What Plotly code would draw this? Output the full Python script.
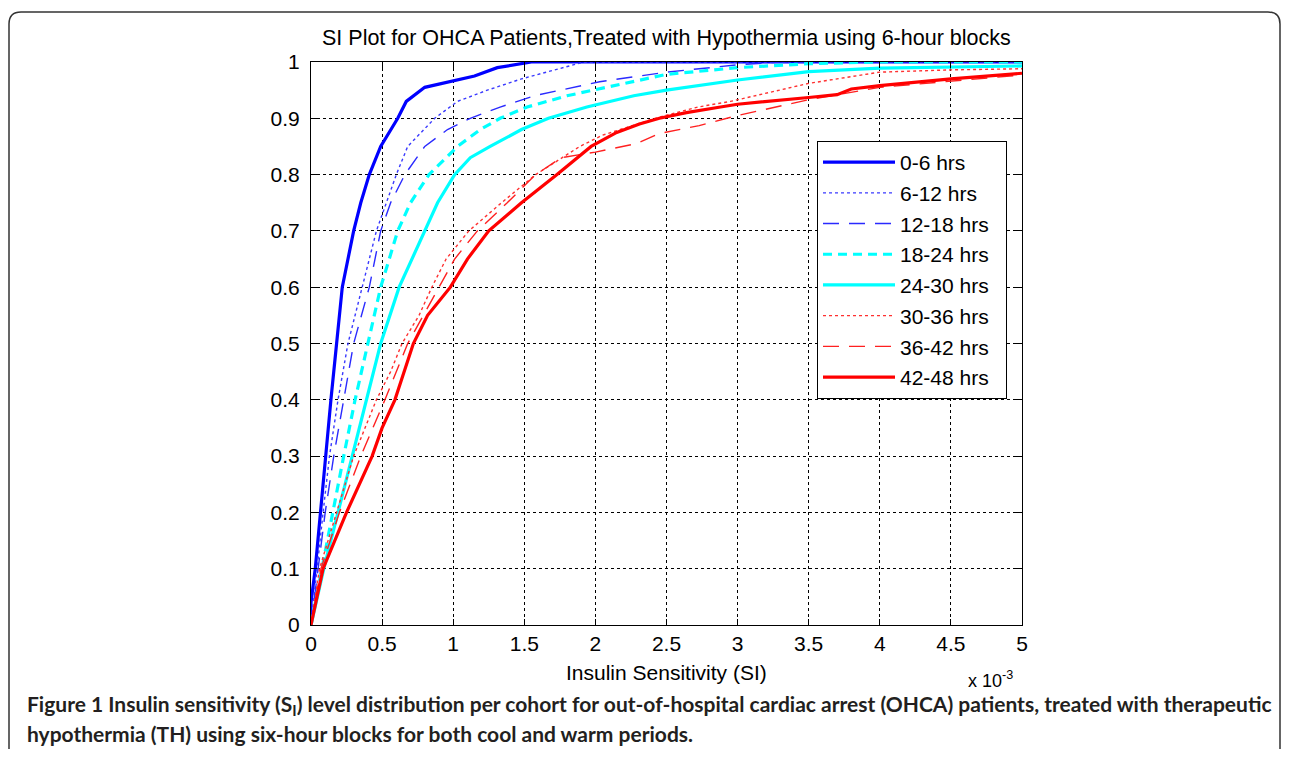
import plotly.graph_objects as go

# Insulin sensitivity values are in units of 1e-3 (axis shows "x 10^-3")
labels = ["0-6 hrs", "6-12 hrs", "12-18 hrs", "18-24 hrs",
          "24-30 hrs", "30-36 hrs", "36-42 hrs", "42-48 hrs"]

x_0_6 = [0, 0, 0.03, 0.065, 0.10, 0.14, 0.18, 0.22, 0.30, 0.35, 0.41, 0.49, 0.61, 0.67, 0.80, 0.98, 1.15, 1.31, 1.55, 5.0]
y_0_6 = [0, 0.04, 0.1, 0.2, 0.3, 0.4, 0.5, 0.6, 0.7, 0.75, 0.8, 0.85, 0.9, 0.93, 0.955, 0.965, 0.975, 0.99, 1.0, 1.0]

x_6_12 = [0, 0.04, 0.085, 0.13, 0.19, 0.26, 0.36, 0.46, 0.53, 0.60, 0.68, 0.87, 1.03, 1.24, 1.48, 1.71, 1.92, 5.0]
y_6_12 = [0, 0.1, 0.2, 0.3, 0.4, 0.5, 0.6, 0.7, 0.75, 0.8, 0.85, 0.9, 0.93, 0.95, 0.97, 0.985, 1.0, 1.0]

x_12_18 = [0, 0.05, 0.10, 0.16, 0.23, 0.30, 0.41, 0.49, 0.56, 0.66, 0.80, 0.96, 1.12, 1.33, 1.57, 1.76, 2.03, 2.5, 3.0, 3.3, 5.0]
y_12_18 = [0, 0.1, 0.2, 0.3, 0.4, 0.5, 0.6, 0.7, 0.75, 0.8, 0.85, 0.88, 0.9, 0.92, 0.94, 0.95, 0.965, 0.982, 0.995, 1.0, 1.0]

x_18_24 = [0, 0.075, 0.15, 0.23, 0.31, 0.40, 0.49, 0.55, 0.61, 0.70, 0.83, 1.03, 1.19, 1.33, 1.52, 1.80, 2.18, 2.5, 3.0, 3.5, 4.0, 5.0]
y_18_24 = [0, 0.1, 0.2, 0.3, 0.4, 0.5, 0.6, 0.65, 0.7, 0.75, 0.8, 0.85, 0.88, 0.9, 0.92, 0.94, 0.96, 0.978, 0.99, 0.997, 1.0, 1.0]

x_24_30 = [0, 0.09, 0.19, 0.29, 0.39, 0.49, 0.62, 0.80, 0.89, 1.01, 1.12, 1.26, 1.48, 1.67, 1.94, 2.27, 2.5, 3.0, 3.5, 4.0, 5.0]
y_24_30 = [0, 0.1, 0.2, 0.3, 0.4, 0.5, 0.6, 0.7, 0.75, 0.8, 0.83, 0.85, 0.88, 0.9, 0.92, 0.94, 0.95, 0.968, 0.983, 0.989, 0.993]

x_30_36 = [0, 0.06, 0.18, 0.30, 0.46, 0.56, 0.64, 0.76, 0.85, 0.95, 1.11, 1.34, 1.58, 1.89, 2.05, 2.42, 2.72, 2.95, 3.5, 4.0, 4.5, 5.0]
y_30_36 = [0, 0.1, 0.2, 0.3, 0.4, 0.45, 0.5, 0.55, 0.6, 0.65, 0.7, 0.75, 0.8, 0.85, 0.87, 0.9, 0.92, 0.93, 0.962, 0.982, 0.986, 0.988]

x_36_42 = [0, 0.07, 0.20, 0.35, 0.52, 0.68, 0.90, 1.01, 1.17, 1.38, 1.58, 1.76, 2.0, 2.29, 2.45, 2.73, 3.0, 3.5, 4.0, 4.5, 5.0]
y_36_42 = [0, 0.1, 0.2, 0.3, 0.4, 0.5, 0.6, 0.65, 0.7, 0.75, 0.8, 0.83, 0.84, 0.855, 0.873, 0.887, 0.905, 0.933, 0.955, 0.966, 0.977]

x_42_48 = [0, 0.085, 0.25, 0.43, 0.50, 0.59, 0.72, 0.82, 0.98, 1.10, 1.25, 1.48, 1.73, 1.97, 2.15, 2.31, 2.45, 2.64, 2.88, 3.0, 3.5, 3.7, 3.8, 4.0, 4.5, 5.0]
y_42_48 = [0, 0.1, 0.2, 0.3, 0.35, 0.4, 0.5, 0.55, 0.6, 0.65, 0.7, 0.75, 0.8, 0.85, 0.875, 0.89, 0.9, 0.91, 0.92, 0.925, 0.937, 0.942, 0.952, 0.958, 0.97, 0.98]

x_ticks = [0, 0.5, 1, 1.5, 2, 2.5, 3, 3.5, 4, 4.5, 5]
x_ticktext = ["0", "0.5", "1", "1.5", "2", "2.5", "3", "3.5", "4", "4.5", "5"]
y_ticks = [0, 0.1, 0.2, 0.3, 0.4, 0.5, 0.6, 0.7, 0.8, 0.9, 1]
y_ticktext = ["0", "0.1", "0.2", "0.3", "0.4", "0.5", "0.6", "0.7", "0.8", "0.9", "1"]

series_x = [x_0_6, x_6_12, x_12_18, x_18_24, x_24_30, x_30_36, x_36_42, x_42_48]
series_y = [y_0_6, y_6_12, y_12_18, y_18_24, y_24_30, y_30_36, y_36_42, y_42_48]

styles = [
    dict(color="#0000ff", width=3.2, dash="solid"),
    dict(color="#3a3aff", width=1.4, dash="3px,3px"),
    dict(color="#2a2aff", width=1.4, dash="16px,10px"),
    dict(color="#00ffff", width=3.2, dash="9px,6px"),
    dict(color="#00ffff", width=3.2, dash="solid"),
    dict(color="#ff3030", width=1.4, dash="3px,3px"),
    dict(color="#ff2020", width=1.4, dash="16px,10px"),
    dict(color="#ff0000", width=3.2, dash="solid"),
]

# page body has an 8px margin; figure is sized so the page fits the window
OFF = 8
W, H = 1290 - 2 * OFF, 757 - 2 * OFF
L, R, T, B = 311, 1022, 62, 625   # plot area in screen pixels


def px(xs):
    return (xs - L) / (R - L)


def py(ys):
    return (B - ys) / (B - T)


fig = go.Figure()
for name, xs, ys, st in zip(labels, series_x, series_y, styles):
    fig.add_trace(go.Scatter(x=xs, y=ys, mode="lines", name=name + "\u00a0\u00a0",
                             legendgroup=name, line=st))

FONT = "Liberation Sans, Arial, sans-serif"

fig.update_layout(
    width=W, height=H,
    margin=dict(l=L - OFF, r=W - (R - OFF), t=T - OFF, b=H - (B - OFF)),
    paper_bgcolor="white", plot_bgcolor="white",
    font=dict(family=FONT, color="black", size=21),
    showlegend=True,
    legend=dict(x=px(817), y=py(141), xanchor="left", yanchor="top",
                bgcolor="white", bordercolor="black", borderwidth=1,
                font=dict(size=21, family=FONT), tracegroupgap=0.4,
                itemwidth=72),
)

fig.update_xaxes(range=[0, 5], tickvals=x_ticks, ticktext=x_ticktext,
                 showline=True, linecolor="black", linewidth=1, mirror="ticks",
                 ticks="inside", ticklen=6, tickcolor="black",
                 showgrid=True, gridcolor="black", gridwidth=1, griddash="3px,3px",
                 zeroline=False, tickfont=dict(size=21, family=FONT))
fig.update_yaxes(range=[0, 1], tickvals=y_ticks, ticktext=y_ticktext,
                 showline=True, linecolor="black", linewidth=1, mirror="ticks",
                 ticks="inside", ticklen=6, tickcolor="black",
                 showgrid=True, gridcolor="black", gridwidth=1, griddash="3px,3px",
                 zeroline=False, tickfont=dict(size=21, family=FONT),
                 ticklabelstandoff=6)

CAP = dict(size=21, family="Lato, sans-serif", color="#231f20")
ann = [
    dict(text="SI Plot for OHCA Patients,Treated with Hypothermia using 6-hour blocks",
         x=px(666), y=py(38), font=dict(size=21.5, family=FONT)),
    dict(text="Insulin Sensitivity (SI)", x=px(666), y=py(672), font=dict(size=21, family=FONT)),
    dict(text="x 10<sup>-3</sup>", x=px(990), y=py(679), font=dict(size=18, family=FONT)),
    dict(text="<b>Figure 1 Insulin sensitivity (S<sub>I</sub>) level distribution per cohort for out-of-hospital cardiac arrest (OHCA) patients, treated with therapeutic</b>",
         x=px(25), y=py(705), xanchor="left", font=CAP),
    dict(text="<b>hypothermia (TH) using six-hour blocks for both cool and warm periods.</b>",
         x=px(25), y=py(733), xanchor="left", font=CAP),
]
for a in ann:
    a.setdefault("xanchor", "center")
    fig.add_annotation(xref="paper", yref="paper", showarrow=False, yanchor="middle", **a)

# rounded outer frame
x0, x1, y0, y1, r = 9, 1280, 12, 800, 12
path = (f"M {px(x0)},{py(y1)} L {px(x0)},{py(y0 + r)} "
        f"Q {px(x0)},{py(y0)} {px(x0 + r)},{py(y0)} "
        f"L {px(x1 - r)},{py(y0)} Q {px(x1)},{py(y0)} {px(x1)},{py(y0 + r)} "
        f"L {px(x1)},{py(y1)}")
fig.add_shape(type="path", path=path, xref="paper", yref="paper",
              line=dict(color="#333333", width=1.5), layer="below")

fig.write_html("out.html")
